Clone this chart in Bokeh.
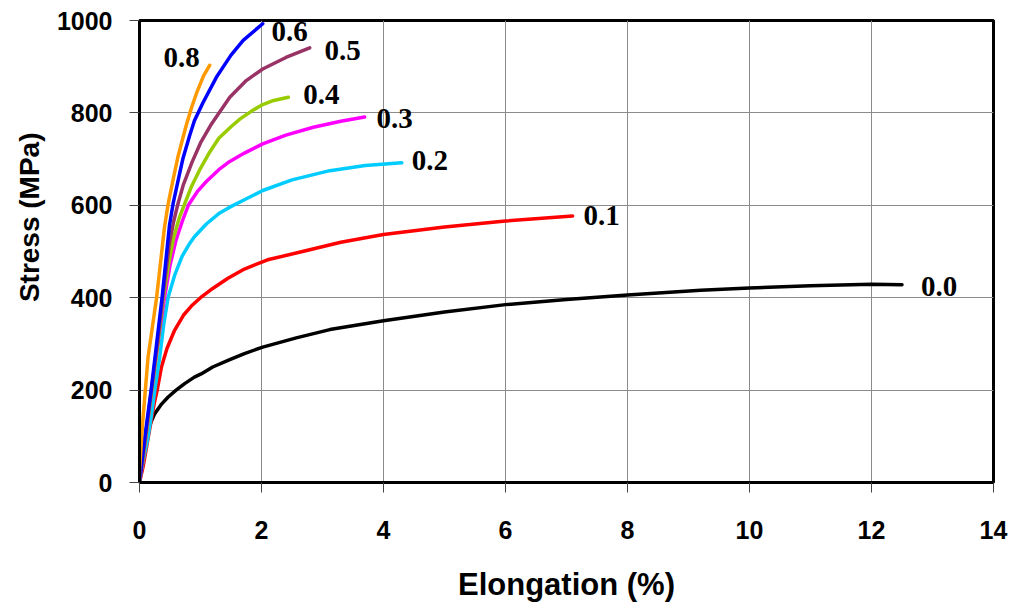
from bokeh.plotting import figure
from bokeh.models import Range1d, FixedTicker, Title
from bokeh.embed import file_html
from bokeh.resources import INLINE
from bokeh.core.properties import value

# ---------------- data ----------------
x_ticks = [0, 2, 4, 6, 8, 10, 12, 14]
y_ticks = [0, 200, 400, 600, 800, 1000]

series_labels = ["0.0", "0.1", "0.2", "0.3", "0.4", "0.5", "0.6", "0.8"]

x_00 = [0, 0.03, 0.08, 0.12, 0.16, 0.25, 0.35, 0.47, 0.6, 0.74, 0.9, 1.01, 1.2, 1.48, 1.72, 2.02,
        2.57, 3.12, 4, 5, 6, 7, 8, 9.2, 10, 11, 12, 12.5]
y_00 = [0, 35, 80, 105, 122, 149, 168, 185, 200, 214, 228, 235, 250, 266, 279, 293,
        313, 331, 350, 369, 385, 396, 406, 416, 421, 426, 429, 428]

x_01 = [0, 0.06, 0.12, 0.18, 0.24, 0.29, 0.36, 0.45, 0.57, 0.72, 0.85, 1.0, 1.2, 1.45, 1.72, 2.1,
        2.74, 3.3, 4, 5, 6, 7.1]
y_01 = [0, 35, 80, 125, 170, 200, 250, 290, 328, 362, 382, 400, 420, 442, 462, 482,
        502, 520, 537, 553, 566, 577]

x_02 = [0, 0.03, 0.08, 0.14, 0.2, 0.25, 0.33, 0.4, 0.47, 0.58, 0.7, 0.82, 0.9, 1.1, 1.3, 1.48,
        1.72, 2.02, 2.5, 3.12, 3.7, 4.3]
y_02 = [0, 26, 60, 98, 150, 199, 270, 345, 401, 450, 490, 517, 532, 560, 582, 596,
        612, 632, 655, 675, 686, 692]

x_03 = [0, 0.05, 0.1, 0.2, 0.3, 0.41, 0.5, 0.6, 0.7, 0.8, 0.95, 1.1, 1.3, 1.48, 1.72, 2.02,
        2.4, 2.85, 3.3, 3.69]
y_03 = [0, 45, 95, 200, 300, 400, 470, 525, 565, 600, 630, 652, 677, 695, 713, 733,
        752, 769, 782, 791]

x_04 = [0, 0.05, 0.1, 0.2, 0.3, 0.39, 0.48, 0.56, 0.65, 0.74, 0.85, 1.0, 1.15, 1.3, 1.5, 1.65,
        1.85, 2.02, 2.2, 2.44]
y_04 = [0, 45, 95, 200, 300, 400, 475, 530, 572, 603, 640, 680, 715, 745, 770, 787,
        805, 818, 827, 834]

x_05 = [0, 0.05, 0.1, 0.2, 0.3, 0.38, 0.49, 0.56, 0.63, 0.72, 0.86, 1.0, 1.18, 1.48, 1.75, 2.02,
        2.4, 2.79]
y_05 = [0, 50, 100, 205, 305, 400, 517, 565, 603, 645, 693, 735, 776, 834, 870, 895,
        920, 941]

x_06 = [0, 0.08, 0.19, 0.28, 0.37, 0.49, 0.55, 0.66, 0.71, 0.82, 0.9, 1.04, 1.26, 1.5, 1.7, 2.02]
y_06 = [0, 91, 199, 300, 400, 555, 603, 670, 700, 750, 783, 822, 877, 925, 957, 993]

x_08 = [0, 0.0, 0.05, 0.14, 0.28, 0.41, 0.47, 0.55, 0.63, 0.71, 0.77, 0.85, 0.93, 1.05, 1.15]
y_08 = [0, 26, 127, 271, 400, 553, 603, 655, 705, 745, 775, 810, 841, 880, 903]

xs = [x_00, x_01, x_02, x_03, x_04, x_05, x_06, x_08]
ys = [y_00, y_01, y_02, y_03, y_04, y_05, y_06, y_08]

x_title = "Elongation (%)"
y_title = "Stress (MPa)"

# ---------------- styles ----------------
colors = ["#000000", "#ff0000", "#00ccff", "#ff00ff", "#99cc00", "#993366", "#0000ff", "#ff9900"]
label_dx = [37, 29, 28, 30, 33, 33, 27, -28]   # screen px from curve end
label_dy = [2, 0, -2, 1, -3, 3, 8, -8]

p = figure(width=1013, height=608, output_backend="svg", toolbar_location=None,
           x_range=Range1d(0, 14), y_range=Range1d(0, 1000),
           min_border_left=139, min_border_right=20, min_border_top=20, min_border_bottom=126,
           background_fill_color="white", border_fill_color="white")
p.outline_line_color = "black"
p.outline_line_width = 3

for ax, ticks in ((p.xaxis, x_ticks), (p.yaxis, y_ticks)):
    ax.ticker = FixedTicker(ticks=ticks)
    ax.major_label_text_font = "Liberation Sans"
    ax.major_label_text_font_style = "bold"
    ax.major_label_text_font_size = "25px"
    ax.major_label_text_color = "black"
    ax.axis_line_color = "black"
    ax.axis_line_width = 3
    ax.major_tick_in = 0
    ax.major_tick_out = 10
    ax.major_tick_line_color = "#444444"
    ax.major_tick_line_width = 1
    ax.minor_tick_line_color = None
    ax.axis_label_text_font = "Liberation Sans"
    ax.axis_label_text_font_style = "bold"
    ax.axis_label_text_color = "black"

p.xaxis.axis_label = x_title
p.xaxis.axis_label_text_font_size = "31px"
p.xaxis.major_label_standoff = 28
p.xaxis.axis_label_standoff = 25
p.yaxis.major_label_standoff = 17

# y title as a side title, placed toward the top like the reference
p.add_layout(Title(text=y_title, align="right", offset=112, standoff=18,
                   text_font="Liberation Sans", text_font_style="bold",
                   text_font_size="28px", text_color="black"), "left")

p.xgrid.ticker = FixedTicker(ticks=x_ticks)
p.ygrid.ticker = FixedTicker(ticks=y_ticks)
p.grid.grid_line_color = "#8c8c8c"
p.grid.grid_line_width = 1

for x, y, c in zip(xs, ys, colors):
    p.line(x, y, line_color=c, line_width=3.5, line_join="round", line_cap="round")

for x, y, lab, dx, dy in zip(xs, ys, series_labels, label_dx, label_dy):
    p.text(x=[x[-1]], y=[y[-1]], text=[lab], x_offset=dx, y_offset=dy,
           text_font=value("Liberation Serif"), text_font_style="bold",
           text_font_size="29px", text_align="center", text_baseline="middle",
           text_color="black")

open("out.html", "w").write(file_html(p, INLINE))
